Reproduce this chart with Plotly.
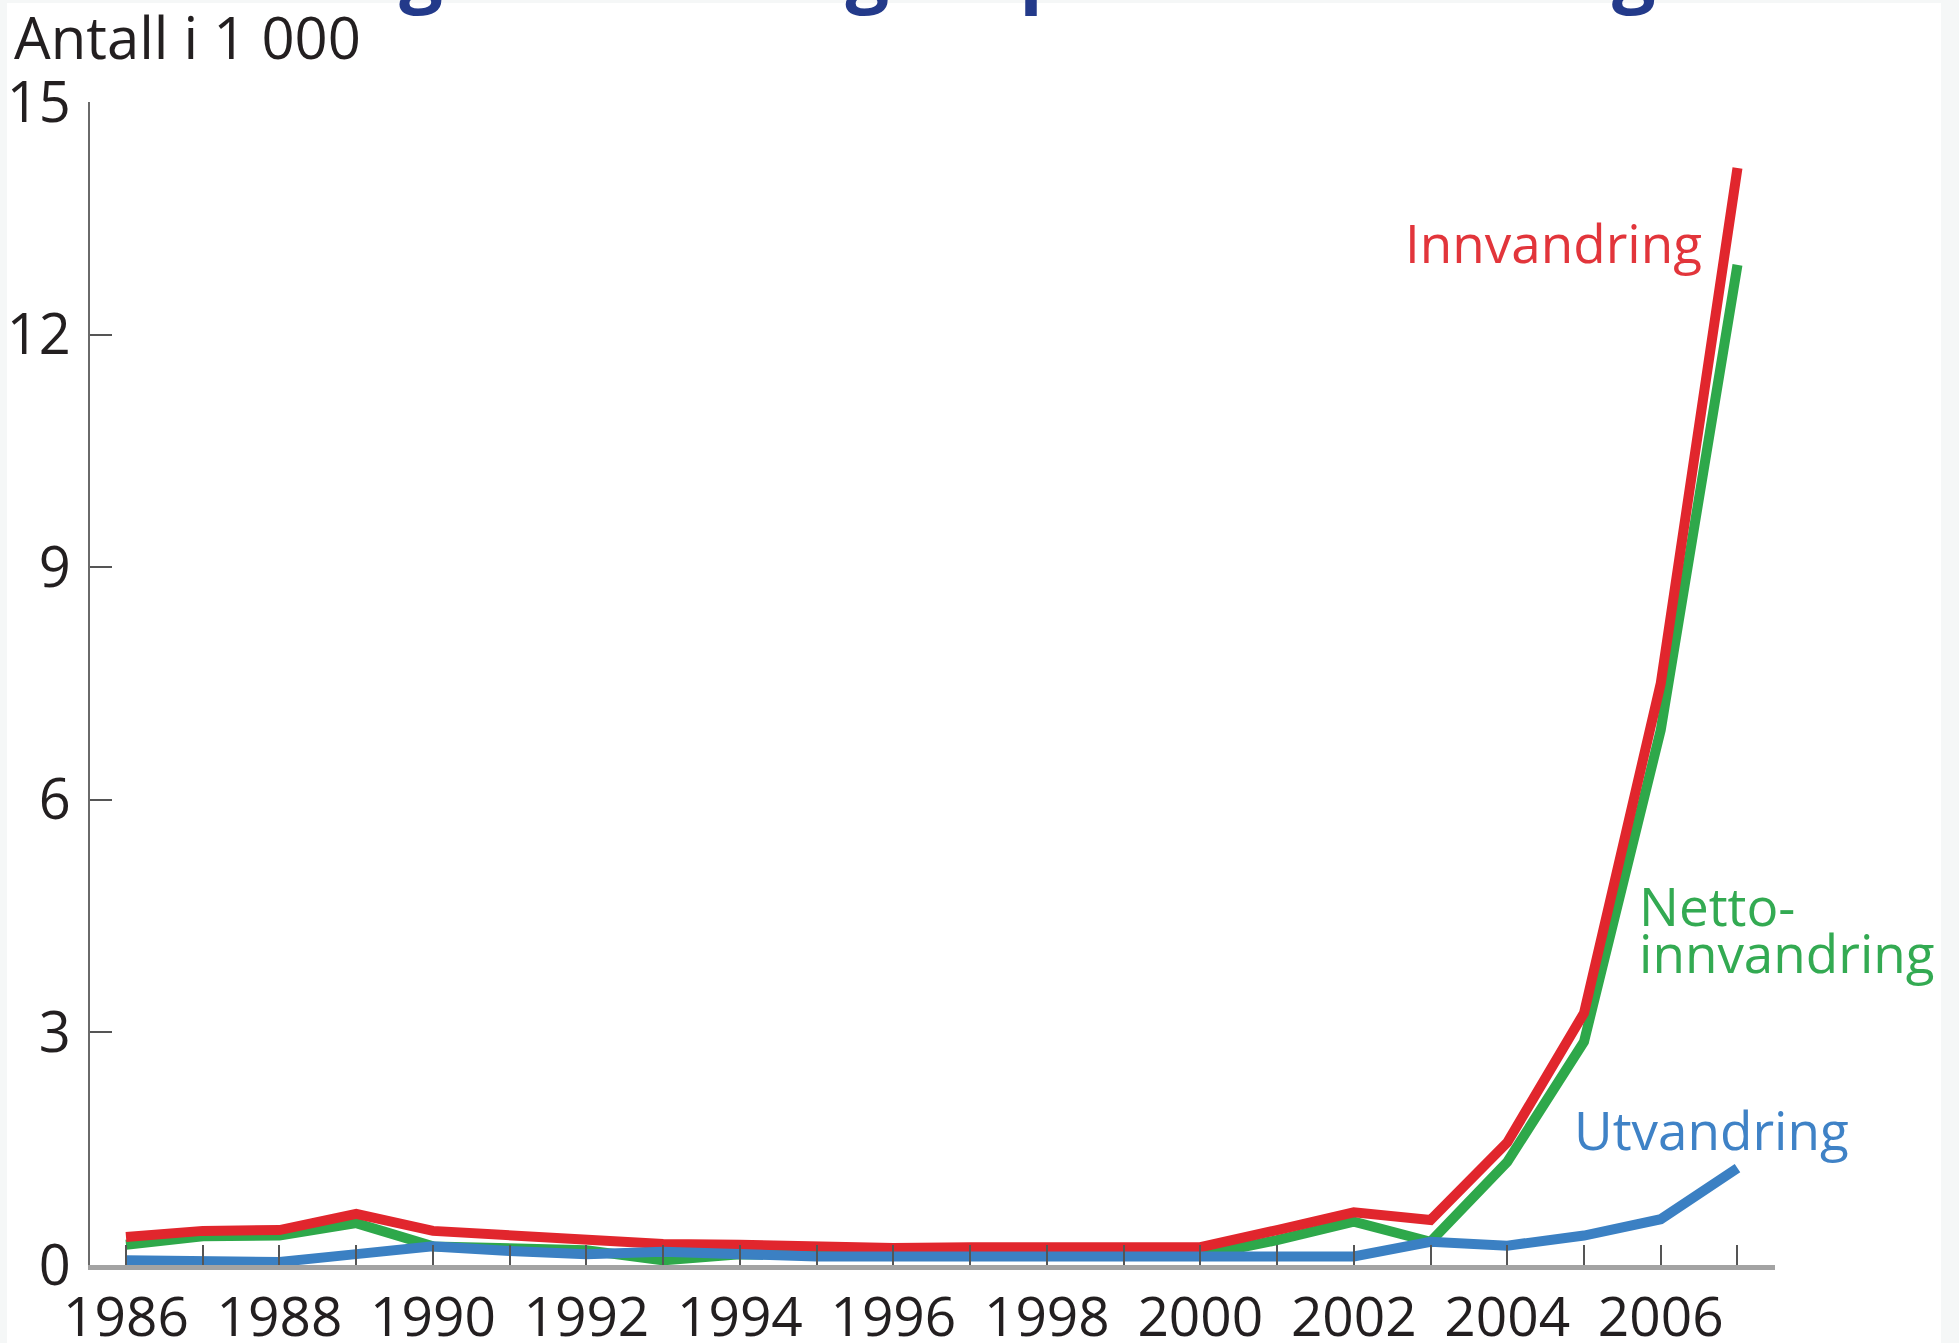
import plotly.graph_objects as go

# ---- data (thousands of persons) ----
years = list(range(1986, 2008))
innvandring = [0.36, 0.44, 0.45, 0.66, 0.44, 0.38, 0.34, 0.27, 0.26, 0.23, 0.22,
               0.23, 0.23, 0.24, 0.23, 0.45, 0.68, 0.58, 1.58, 3.25, 7.50, 14.15]
nettoinnvandring = [0.26, 0.37, 0.38, 0.54, 0.24, 0.21, 0.19, 0.06, 0.14, 0.13, 0.12,
                    0.12, 0.12, 0.13, 0.12, 0.32, 0.56, 0.30, 1.33, 2.88, 6.90, 12.90]
utvandring = [0.06, 0.06, 0.04, 0.14, 0.24, 0.18, 0.14, 0.17, 0.13, 0.11, 0.11,
              0.11, 0.11, 0.11, 0.11, 0.11, 0.11, 0.30, 0.25, 0.38, 0.59, 1.25]
x_tick_vals = years
x_tick_text = [str(y) if y % 2 == 0 and y < 2007 else "" for y in years]
y_tick_vals = [0, 3, 6, 9, 12, 15]

title_text = "Inn- og utvandring av polske statsborgere"
y_title = "Antall i 1 000"

RED = "#e1262d"
GREEN = "#2ea84a"
BLUE = "#3b80c3"
TXT = "#231f20"
FONT = "Open Sans"

W_FIG, H_FIG = 1959, 1343
L, T, R, B = 90, 102, 184, 78
PW, PH = W_FIG - L - R, H_FIG - T - B


def xp(px):
    return (px - L) / PW


def yp(py):
    return 1 - (py - T) / PH


fig = go.Figure()
fig.add_trace(go.Scatter(x=years, y=nettoinnvandring, mode="lines",
                         line=dict(color=GREEN, width=10), name="Nettoinnvandring"))
fig.add_trace(go.Scatter(x=years, y=innvandring, mode="lines",
                         line=dict(color=RED, width=10), name="Innvandring"))
fig.add_trace(go.Scatter(x=years, y=utvandring, mode="lines",
                         line=dict(color=BLUE, width=10), name="Utvandring"))

ann = []
ann.append(dict(text=f"<b>{title_text}</b>", xref="paper", yref="paper",
                x=xp(980), y=yp(22), xanchor="center", yanchor="bottom",
                showarrow=False, font=dict(family=FONT, size=77, color="#233a8a")))
ann.append(dict(text=y_title, xref="paper", yref="paper", x=xp(12), y=yp(37),
                xanchor="left", yanchor="middle", showarrow=False,
                font=dict(family=FONT, size=58, color=TXT)))
ann.append(dict(text="Innvandring", xref="paper", yref="paper", x=xp(1403), y=yp(243),
                xanchor="left", yanchor="middle", showarrow=False,
                font=dict(family=FONT, size=53, color="#e2353b")))
ann.append(dict(text="Netto-", xref="paper", yref="paper", x=xp(1637), y=yp(905),
                xanchor="left", yanchor="middle", showarrow=False,
                font=dict(family=FONT, size=53, color="#33aa52")))
ann.append(dict(text="innvandring", xref="paper", yref="paper", x=xp(1637), y=yp(952),
                xanchor="left", yanchor="middle", showarrow=False,
                font=dict(family=FONT, size=53, color="#33aa52")))
ann.append(dict(text="Utvandring", xref="paper", yref="paper", x=xp(1572), y=yp(1129),
                xanchor="left", yanchor="middle", showarrow=False,
                font=dict(family=FONT, size=53, color="#3f82c6")))
ann.append(dict(text="<b>2</b>", xref="paper", yref="paper", x=xp(1945), y=yp(1326),
                xanchor="left", yanchor="top", showarrow=False,
                font=dict(family=FONT, size=40, color="#111111")))

shapes = [
    dict(type="rect", xref="paper", yref="paper", x0=xp(-5), x1=xp(7), y0=yp(H_FIG + 5), y1=yp(-5),
         fillcolor="#f5f7f7", line=dict(width=0), layer="below"),
    dict(type="rect", xref="paper", yref="paper", x0=xp(1941), x1=xp(W_FIG + 5), y0=yp(H_FIG + 5), y1=yp(-5),
         fillcolor="#f5f7f7", line=dict(width=0), layer="below"),
    dict(type="rect", xref="paper", yref="paper", x0=xp(-5), x1=xp(W_FIG + 5), y0=yp(3), y1=yp(-5),
         fillcolor="#f5f7f7", line=dict(width=0), layer="below"),
]

fig.update_layout(
    width=W_FIG, height=H_FIG, autosize=False,
    margin=dict(l=L, r=R, t=T, b=B, pad=0, autoexpand=False),
    paper_bgcolor="white", plot_bgcolor="white",
    showlegend=False,
    font=dict(family=FONT, color=TXT),
    annotations=ann, shapes=shapes,
    xaxis=dict(range=[1985.531, 2007.489], tickmode="array", tickvals=x_tick_vals,
               ticktext=x_tick_text, ticks="inside", ticklen=20, tickwidth=2,
               tickcolor="#555555", showline=True, linecolor="#a3a3a3", linewidth=5,
               showgrid=False, zeroline=False, tickfont=dict(family=FONT, size=55, color=TXT),
               ticklabelstandoff=0, automargin=False),
    yaxis=dict(range=[0, 15], tickmode="array", tickvals=y_tick_vals,
               ticks="inside", ticklen=22, tickwidth=2, tickcolor="#555555",
               showline=True, linecolor="#6a6a6a", linewidth=2,
               showgrid=False, zeroline=False, tickfont=dict(family=FONT, size=56, color=TXT),
               ticklabelstandoff=6, automargin=False),
)

fig.write_html("out.html", config={"displayModeBar": False},
               post_script="document.body.style.margin='0';document.body.style.padding='0';document.body.style.overflow='hidden';")
